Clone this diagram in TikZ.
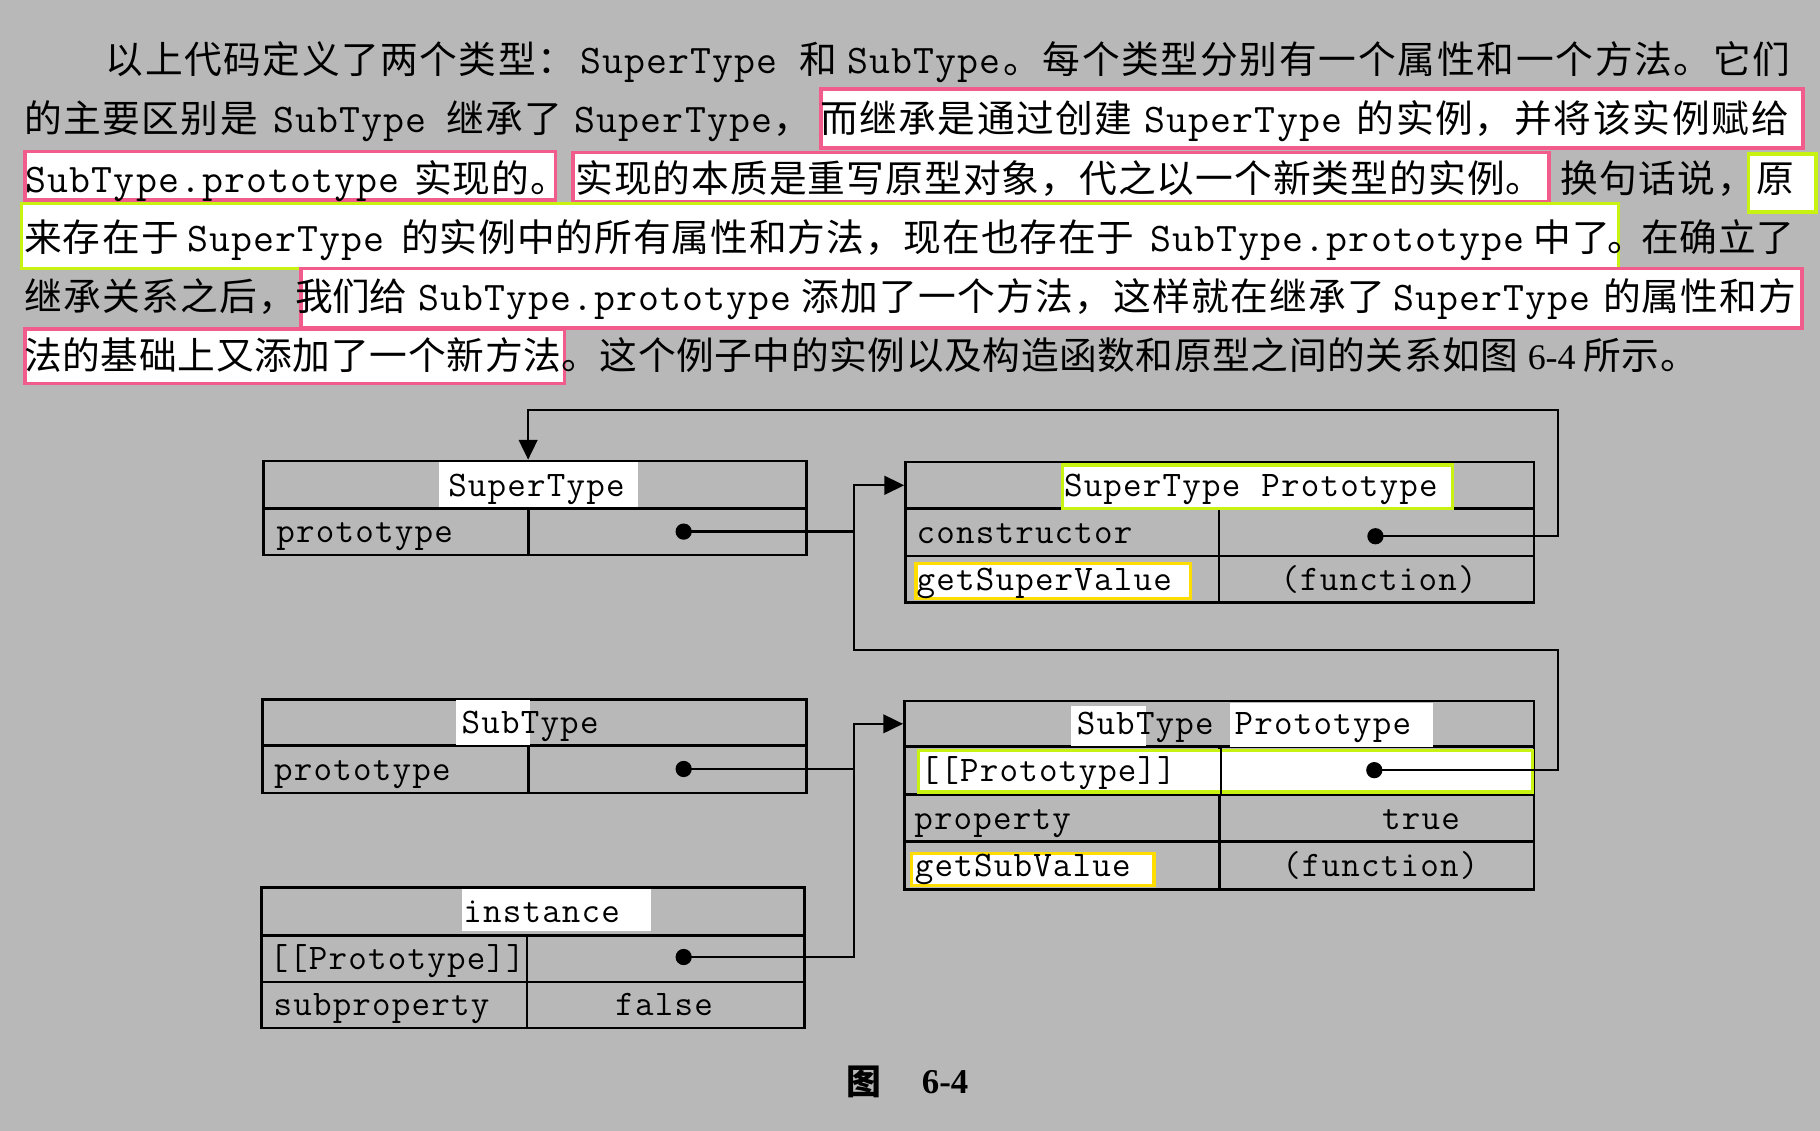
\documentclass[tikz,border=0pt]{standalone}
\usepackage{fontspec}
\setmainfont{Noto Sans CJK SC}
\newfontfamily\numfont{Liberation Serif}
\usetikzlibrary{arrows.meta}

\definecolor{paper}{RGB}{184,184,184}
\definecolor{hlpink}{RGB}{242,92,140}
\definecolor{hllime}{RGB}{200,242,18}
\definecolor{hlyellow}{RGB}{255,221,0}

% set every character of a run in a cell of fixed pitch
\newlength\chpitch
\def\chloop#1{\ifx#1\relax\else\hbox to\chpitch{#1\hss}\expandafter\chloop\fi}
\newcommand\spaced[2]{\setlength\chpitch{#1pt}\chloop#2\relax}

\tikzset{
  body/.style={anchor=base west, inner sep=0pt, font=\fontsize{32.5}{36}\selectfont},
  code/.style={anchor=base west, inner sep=0pt, font=\fontsize{35}{36}\selectfont\ttfamily},
  dcode/.style={anchor=base west, inner sep=0pt, font=\fontsize{31}{34}\selectfont\ttfamily},
  hl/.style={draw=#1, line width=3pt, fill=white, inner sep=0pt, anchor=north west},
  wbox/.style={draw=white, line width=2.5pt, fill=white, inner sep=0pt, anchor=north west},
  cell/.style={draw=black, line width=2.2pt, inner sep=0pt, anchor=north west},
  dot/.style={circle, fill=black, inner sep=0pt, minimum size=14pt},
  conn/.style={line width=2pt, black},
  tip/.style={-{Triangle[length=17pt, width=16pt]}},
}

% name, colour, x1, y1, x2, y2
\newcommand\hlbox[6]{\node[hl=#2, minimum width={#5-#3}, minimum height={#6-#4}] (#1) at (#3,#4) {};}
% name, x1, y1, x2, y2
\newcommand\whbox[5]{\node[wbox, minimum width={#4-#2}, minimum height={#5-#3}] (#1) at (#2,#3) {};}
\newcommand\tcell[5]{\node[cell, minimum width={#4-#2}, minimum height={#5-#3}] (#1) at (#2,#3) {};}

\begin{document}
\begin{tikzpicture}[x=1pt, y=-1pt]
\useasboundingbox (0,0) rectangle (1568,974);
\fill[paper] (0,0) rectangle (1568,974);

% ---------------- highlighted spans of the paragraph ----------------
\hlbox{p1}{hlpink}{706}{75}{1552}{126}
\hlbox{p2}{hlpink}{20}{129}{477}{171}
\hlbox{p3}{hlpink}{492}{130}{1333}{172}
\hlbox{g1}{hllime}{1505}{131}{1563}{181}
\hlbox{g2}{hllime}{17}{174}{1393}{230}
\hlbox{p4}{hlpink}{258}{230}{1551}{281}
\hlbox{p5}{hlpink}{20}{282}{485}{329}

% ---------------- paragraph ----------------
% line 1
\node[body] (t1a) at (91,63.5)   {\spaced{33.8}{以上代码定义了两个类型：}};
\node[code] (t1b) at (500,63.5)  {\spaced{19}{SuperType}};
\node[body] (t1c) at (688.5,63.5){和};
\node[code] (t1d) at (730,63.5)  {\spaced{19}{SubType}};
\node[body] (t1e) at (864,63.5)  {\spaced{34}{。每个类型分别有一个属性和一个方法。它们}};
% line 2
\node[body] (t2a) at (20.5,114.5) {\spaced{33.8}{的主要区别是}};
\node[code] (t2b) at (235,114.5)  {\spaced{19}{SubType}};
\node[body] (t2c) at (384.5,114.5){\spaced{33.8}{继承了}};
\node[code] (t2d) at (495,114.5)  {\spaced{19}{SuperType}};
\node[body] (t2e) at (666,114.5)  {，};
\node[body] (t2f) at (706.5,114.5){\spaced{33.8}{而继承是通过创建}};
\node[code] (t2g) at (986,114.5)  {\spaced{19}{SuperType}};
\node[body] (t2h) at (1168.5,114.5){\spaced{34}{的实例，并将该实例赋给}};
% line 3
\node[code] (t3a) at (22,165.5)   {\spaced{19}{SubType.prototype}};
\node[body] (t3b) at (356.5,165.5){\spaced{33.5}{实现的。}};
\node[body] (t3c) at (495.5,165.5){\spaced{33.4}{实现的本质是重写原型对象，代之以一个新类型的实例。}};
\node[body] (t3d) at (1344,165.5) {\spaced{33.8}{换句话说，}};
\node[body] (t3e) at (1513.5,165.5){原};
% line 4
\node[body] (t4a) at (20.5,216.5) {\spaced{33.6}{来存在于}};
\node[code] (t4b) at (161,216.5)  {\spaced{19}{SuperType}};
\node[body] (t4c) at (345.5,216.5){\spaced{33.3}{的实例中的所有属性和方法，现在也存在于}};
\node[code] (t4d) at (991,216.5)  {\spaced{19}{SubType.prototype}};
\node[body] (t4e) at (1321,216.5) {\spaced{33.6}{中了}};
\node[body] (t4f) at (1385,216.5) {。};
\node[body] (t4g) at (1414,216.5) {\spaced{33}{在确立了}};
% line 5
\node[body] (t5a) at (20.5,267.5) {\spaced{33.7}{继承关系之后，}};
\node[body] (t5b) at (254,267.5)  {\spaced{32}{我们给}};
\node[code] (t5c) at (360,267.5)  {\spaced{19}{SubType.prototype}};
\node[body] (t5d) at (690.5,267.5){\spaced{33.6}{添加了一个方法，这样就在继承了}};
\node[code] (t5e) at (1200,267.5) {\spaced{19}{SuperType}};
\node[body] (t5f) at (1381,267.5) {\spaced{33.4}{的属性和方}};
% line 6
\node[body] (t6a) at (20.5,318.5) {\spaced{33.1}{法的基础上又添加了一个新方法}};
\node[body] (t6b) at (483.5,318.5){\spaced{33}{。这个例子中的实例以及构造函数和原型之间的关系如图}};
\node[body, font=\fontsize{31}{34}\numfont] (t6c) at (1316,318.5) {6-4};
\node[body] (t6d) at (1364,318.5) {\spaced{33}{所示。}};

% ---------------- tables ----------------
% SuperType
\tcell{sth}{226}{396}{693.5}{437}
\tcell{stk}{226}{437}{454}{477}
\tcell{stv}{454}{437}{693.5}{477}
% SuperType Prototype
\tcell{sph}{779}{397}{1320.5}{437}
\tcell{spk2}{779}{437}{1049}{478}
\tcell{spv2}{1049}{437}{1320.5}{478}
\tcell{spk3}{779}{478}{1049}{518}
\tcell{spv3}{1049}{478}{1320.5}{518}
% SubType
\tcell{sbh}{225}{601.5}{693.5}{641}
\tcell{sbk}{225}{641}{454}{682}
\tcell{sbv}{454}{641}{693.5}{682}
% instance
\tcell{inh}{224}{763.5}{692}{805}
\tcell{ink2}{224}{805}{453}{845}
\tcell{inv2}{453}{805}{692}{845}
\tcell{ink3}{224}{845}{453}{884.5}
\tcell{inv3}{453}{845}{692}{884.5}
% SubType Prototype
\tcell{bph}{778}{603}{1320.5}{642}
\tcell{bpk2}{778}{642}{1049.5}{683.5}
\tcell{bpv2}{1049.5}{642}{1320.5}{683.5}
\tcell{bpk3}{778}{683.5}{1049.5}{724}
\tcell{bpv3}{1049.5}{683.5}{1320.5}{724}
\tcell{bpk4}{778}{724}{1049.5}{765}
\tcell{bpv4}{1049.5}{724}{1320.5}{765}

% highlights inside the tables
\whbox{w1}{378}{398}{547}{434}
\hlbox{g3}{hllime}{914}{399}{1250}{436.5}
\hlbox{y1}{hlyellow}{787.5}{484}{1024}{514}
\whbox{w2}{393}{603}{454}{639}
\whbox{w3}{398}{766}{558}{800}
\whbox{w4}{923}{608}{985}{640.5}
\whbox{w5}{1060}{606}{1232}{641}
\hlbox{g4}{hllime}{790}{645}{1319}{681}
\hlbox{y2}{hlyellow}{784}{734}{992.5}{761.5}
\draw[line width=1.5pt] (bpk2.north east) -- (bpk2.south east);

% table texts
\node[dcode] (l1)  at (386,427.5)    {\spaced{17}{SuperType}};
\node[dcode] (l2)  at (238,467.5)    {\spaced{17}{prototype}};
\node[dcode] (l3)  at (916.5,427.5)  {\spaced{17}{SuperType~Prototype}};
\node[dcode] (l4)  at (789.5,468)    {\spaced{17}{constructor}};
\node[dcode] (l5)  at (789.5,508.5)  {\spaced{17}{getSuperValue}};
\node[dcode] (l6)  at (1103,508.5)   {\spaced{17}{(function)}};
\node[dcode] (l7)  at (397.5,632)    {\spaced{17}{SubType}};
\node[dcode] (l8)  at (236,672)      {\spaced{17}{prototype}};
\node[dcode] (l9)  at (399,794.5)    {\spaced{17}{instance}};
\node[dcode] (l10) at (232,835.5)    {\spaced{17}{[[Prototype]]}};
\node[dcode] (l11) at (235.5,875)    {\spaced{17}{subproperty}};
\node[dcode] (l12) at (530,875)      {\spaced{17}{false}};
\node[dcode] (l13) at (927.5,633)    {\spaced{17}{SubType~Prototype}};
\node[dcode] (l14) at (793,673.5)    {\spaced{17}{[[Prototype]]}};
\node[dcode] (l15) at (787.5,714.5)  {\spaced{17}{property}};
\node[dcode] (l16) at (1190.5,714.5) {\spaced{17}{true}};
\node[dcode] (l17) at (788,755)      {\spaced{17}{getSubValue}};
\node[dcode] (l18) at (1104.5,755)   {\spaced{17}{(function)}};

% pointer dots
\node[dot] (d1) at (589,458)    {};
\node[dot] (d2) at (1185,462)   {};
\node[dot] (d3) at (589,662.5)  {};
\node[dot] (d4) at (589,824.5)  {};
\node[dot] (d5) at (1184,663.5) {};

% connector bends
\coordinate (ctopR) at (1342,353);
\coordinate (ctopL) at (455,353);
\coordinate (cmidR) at (1342,560);
\coordinate (cmidL) at (736,560);

% constructor -> SuperType
\draw[conn, tip] (d2.center) -| (ctopR) -- (ctopL) -- (ctopL |- sth.north);
% SubType Prototype [[Prototype]] -> SuperType Prototype
\draw[conn, tip] (d5.center) -| (cmidR) -- (cmidL) -- (cmidL |- sph.west) -- (sph.west);
\draw[conn] (d1.center) -- (d1.center -| cmidL);
% instance [[Prototype]] -> SubType Prototype
\draw[conn, tip] (d4.center) -- (d4.center -| cmidL) -- (cmidL |- bph.west) -- (bph.west);
\draw[conn] (d3.center) -- (d3.center -| cmidL);

% caption
\node[body, font=\bfseries\fontsize{30}{32}\selectfont] (cap1) at (729.5,943) {图};
\node[body, font=\bfseries\fontsize{30}{32}\numfont] (cap2) at (794,942) {6-4};
\end{tikzpicture}
\end{document}
